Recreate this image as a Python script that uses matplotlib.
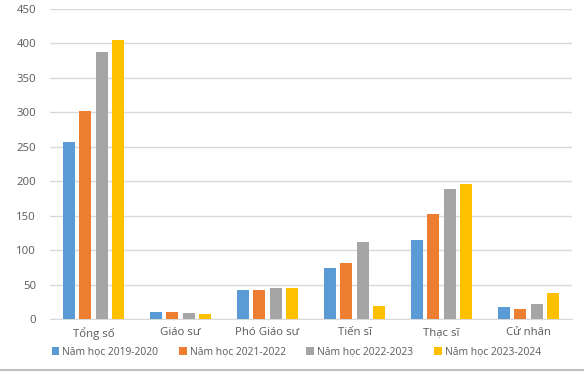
import numpy as np
import matplotlib.pyplot as plt

categories = ['Tổng số', 'Giáo sư', 'Phó Giáo sư', 'Tiến sĩ', 'Thạc sĩ', 'Cử nhân']
series_names = ['Năm học 2019-2020', 'Năm học 2021-2022',
                'Năm học 2022-2023', 'Năm học 2023-2024']
y2019 = [257, 10, 42, 74, 115, 17]
y2021 = [302, 10, 42, 81, 152, 14]
y2022 = [388, 9, 45, 112, 188, 22]
y2023 = [405, 7, 45, 19, 196, 38]
colors = ['#5B9BD5', '#ED7D31', '#A5A5A5', '#FFC000']

plt.rcParams['font.family'] = ['Open Sans', 'DejaVu Sans']

fig = plt.figure(figsize=(5.84, 3.74), dpi=100)
ax = fig.add_axes([50 / 584, 1 - 319 / 374, 522 / 584, 310 / 374])

x = np.arange(len(categories))
width = 0.138
step = 0.184
for i, (vals, name) in enumerate(zip([y2019, y2021, y2022, y2023], series_names)):
    ax.bar(x + (i - 1.5) * step, vals, width, color=colors[i], label=name, zorder=3)

ax.set_xlim(-0.5, len(categories) - 0.5)
ax.set_ylim(0, 450)
ax.set_yticks(range(0, 451, 50))
ax.set_xticks(x)
ax.set_xticklabels(categories)
ax.grid(axis='y', color='#D9D9D9', linewidth=1, zorder=0)
for s in ['top', 'right', 'left']:
    ax.spines[s].set_visible(False)
ax.spines['bottom'].set_color('#D9D9D9')
ax.tick_params(length=0, colors='#595959', labelsize=8.2)
ax.tick_params(axis='y', pad=10)
ax.tick_params(axis='x', pad=6)

ax.legend(loc='upper left', bbox_to_anchor=(-0.005, -0.075), ncol=4, frameon=False,
          fontsize=7.4, labelcolor='#595959', handlelength=0.75, handleheight=0.75,
          handletextpad=0.3, columnspacing=2.0, borderaxespad=0)

# scroll bar line at the bottom of the screenshot
fig.add_artist(plt.Line2D([0, 1], [4 / 374, 4 / 374], color='#BFBFBF', linewidth=1.5))

fig.savefig('out.png', dpi=100)
